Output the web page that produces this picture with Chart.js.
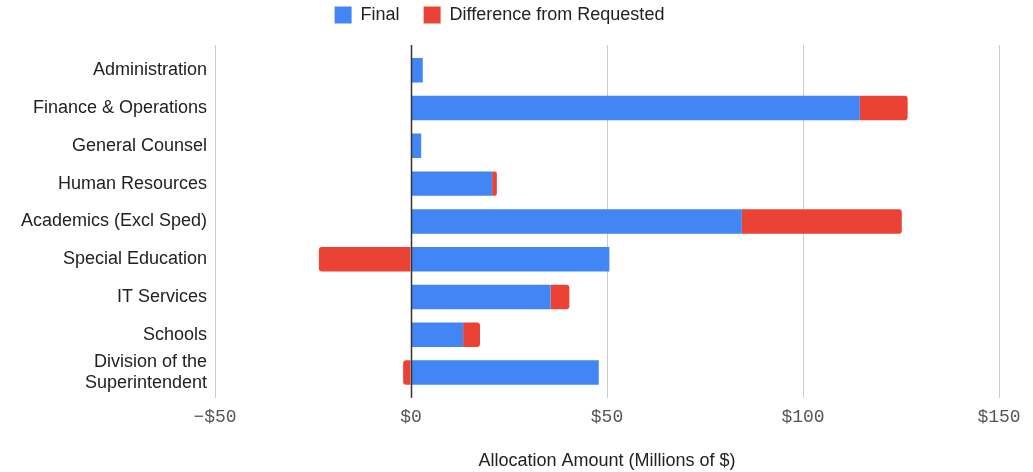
<!DOCTYPE html>
<html>
<head>
<meta charset="utf-8">
<script src="https://cdn.jsdelivr.net/npm/chart.js@4/dist/chart.umd.min.js"></script>
<style>
  body { margin: 0; background: #fff; }
</style>
</head>
<body>
<canvas id="chart-bar" width="1033" height="472"></canvas>
<script>
// Departments (y axis)
const categories = [
    'Administration',
    'Finance & Operations',
    'General Counsel',
    'Human Resources',
    'Academics (Excl Sped)',
    'Special Education',
    'IT Services',
    'Schools',
    ['Division of the', 'Superintendent']
];
// Millions of $
const finalValues = [3.0, 114.5, 2.6, 20.7, 84.4, 50.6, 35.6, 13.3, 47.9];
const differenceValues = [null, 12.2, null, 1.2, 40.8, -23.5, 4.8, 4.3, -2.0];
const xTicks = [-50, 0, 50, 100, 150];

// Dark baseline at $0, drawn over the bars
const zeroLine = {
    id: 'zeroLine',
    afterDatasetsDraw(chart) {
        const { ctx, chartArea, scales } = chart;
        const x = Math.round(scales.x.getPixelForValue(0)) + 0.5;
        ctx.save();
        ctx.strokeStyle = '#333';
        ctx.lineWidth = 1.5;
        ctx.beginPath();
        ctx.moveTo(x, chartArea.top);
        ctx.lineTo(x, chartArea.bottom);
        ctx.stroke();
        ctx.restore();
    }
};

// Legend: wide gaps between items, but keep it near the top edge
const legendFix = {
    id: 'legendFix',
    beforeInit(chart) {
        const fit = chart.legend.fit;
        chart.legend.fit = function () {
            fit.call(this);
            this.height = 45;
        };
    },
    afterLayout(chart) {
        chart.legend.top -= 18;
    }
};

var ctx = document.getElementById('chart-bar').getContext('2d');
new Chart(ctx, {
    type: 'bar',
    data: {
        labels: categories,
        datasets: [{
            label: 'Final',
            data: finalValues,
            backgroundColor: '#4285f4',
            borderWidth: 0,
            categoryPercentage: 0.8,
            barPercentage: 0.81,
        }, {
            label: 'Difference from Requested',
            data: differenceValues,
            backgroundColor: '#ea4335',
            borderWidth: 0,
            borderRadius: 3,
            borderSkipped: 'start',
            categoryPercentage: 0.8,
            barPercentage: 0.81,
        }],
    },
    plugins: [zeroLine, legendFix],
    options: {
        indexAxis: 'y',
        responsive: false,
        animation: false,
        layout: { padding: { left: 0, right: 34, top: 0, bottom: 0 } },
        plugins: {
            legend: {
                position: 'top',
                labels: {
                    boxWidth: 17,
                    boxHeight: 17,
                    padding: 24,
                    color: '#222',
                    font: { size: 18, family: "'Liberation Sans', Arial, sans-serif" },
                },
            },
            tooltip: { enabled: false },
        },
        scales: {
            x: {
                stacked: true,
                min: -50,
                max: 150,
                afterBuildTicks: s => { s.ticks = xTicks.map(v => ({ value: v })); },
                grid: { color: '#ccc', lineWidth: 1, drawTicks: false },
                border: { display: false },
                ticks: {
                    padding: 9,
                    color: '#555',
                    font: { size: 18, family: "'Liberation Mono', monospace" },
                    callback: v => (v < 0 ? '\u2212$' + Math.abs(v) : '$' + v),
                },
                title: {
                    display: true,
                    text: 'Allocation Amount (Millions of $)',
                    color: '#222',
                    padding: { top: 13, bottom: 0 },
                    font: { size: 18, family: "'Liberation Sans', Arial, sans-serif" },
                },
            },
            y: {
                stacked: true,
                grid: { display: false, drawTicks: false },
                border: { display: false },
                afterFit: s => { s.width = 215; },
                // a little extra room above the first and below the last bar
                afterBuildTicks: s => { s._startValue = -0.67; s._valueRange = 9.34; },
                ticks: {
                    autoSkip: false,
                    padding: 8,
                    color: '#222',
                    font: { size: 18, family: "'Liberation Sans', Arial, sans-serif" },
                },
            },
        },
    },
});
</script>
</body>
</html>
